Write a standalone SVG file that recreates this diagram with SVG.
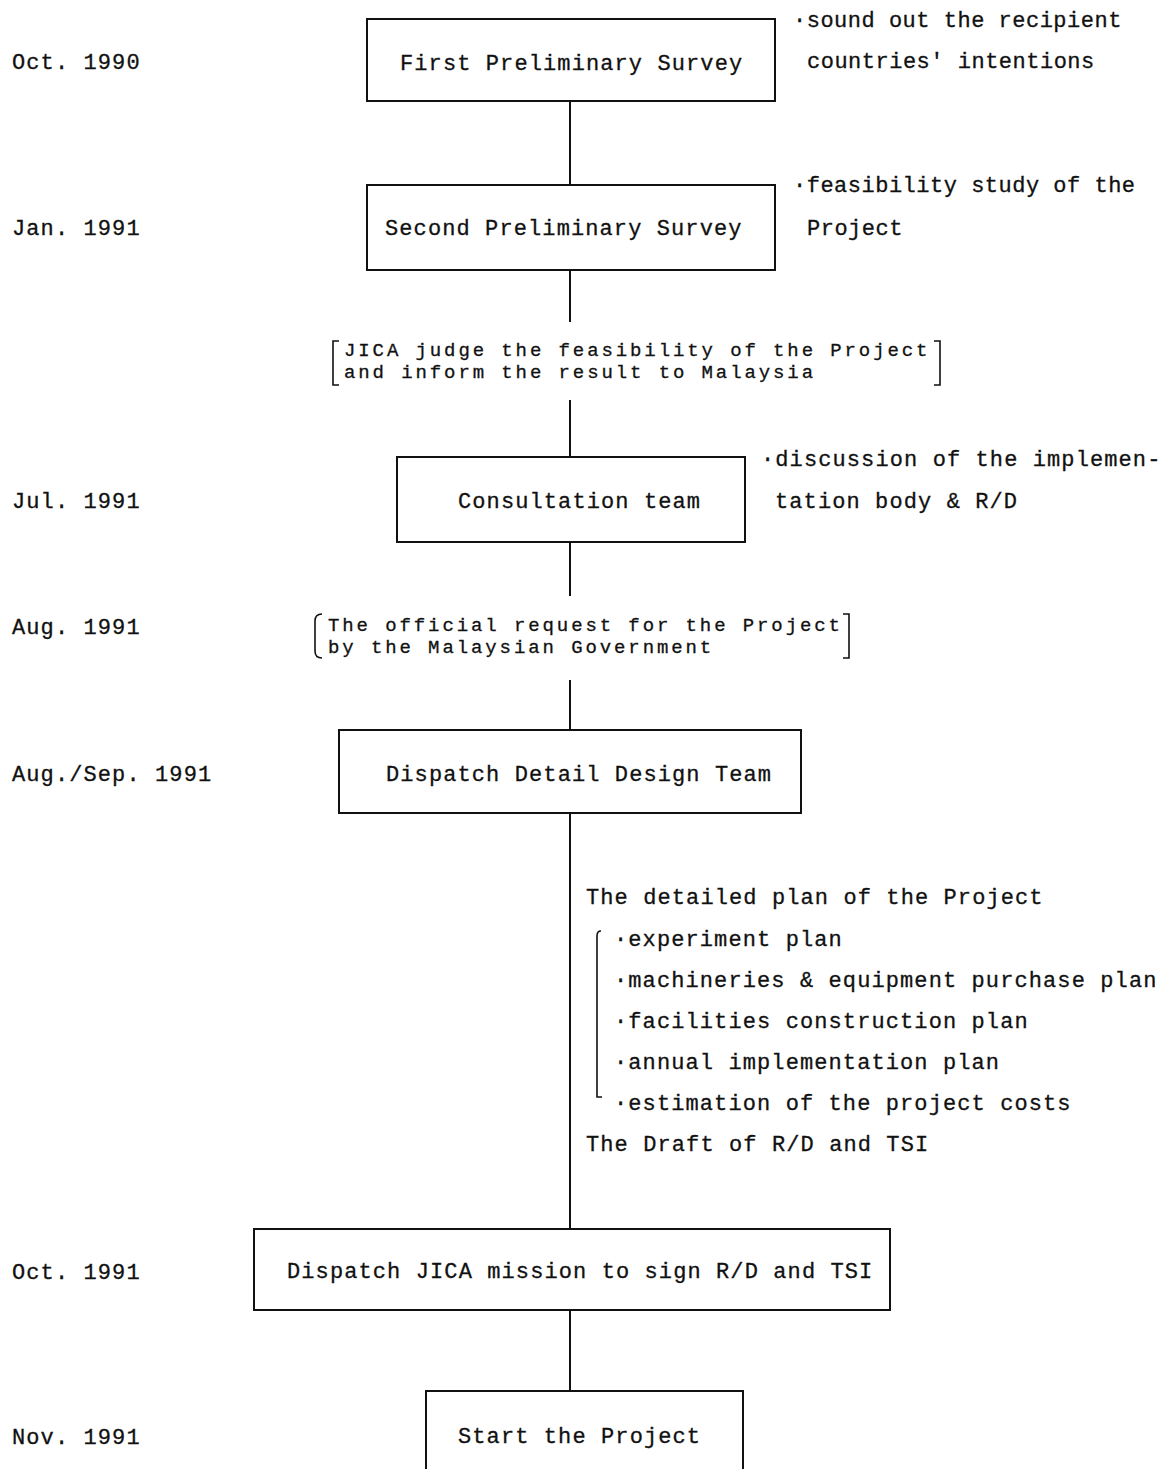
<svg xmlns="http://www.w3.org/2000/svg" width="1165" height="1469" viewBox="0 0 1165 1469">
  <style>
    text { font-family: "Liberation Mono", "DejaVu Sans Mono", monospace; font-size: 22px; letter-spacing: 1.1px; fill: #111; stroke: #111; stroke-width: 0.3px; }
    .note { letter-spacing: 0.5px; }
    .tight { font-size: 19px; letter-spacing: 2.9px; }
    .box { fill: none; stroke: #111; stroke-width: 2; }
    .line { fill: none; stroke: #111; stroke-width: 2; }
    .brk { fill: none; stroke: #111; stroke-width: 1.6; }
  </style>
  <rect width="1165" height="1469" fill="#fff"/>

  <!-- timeline dates -->
  <g id="dates">
    <text x="12" y="69">Oct. 1990</text>
    <text x="12" y="235">Jan. 1991</text>
    <text x="12" y="508">Jul. 1991</text>
    <text x="12" y="634">Aug. 1991</text>
    <text x="12" y="781">Aug./Sep. 1991</text>
    <text x="12" y="1279">Oct. 1991</text>
    <text x="12" y="1444">Nov. 1991</text>
  </g>

  <!-- connectors -->
  <g id="connectors">
    <line class="line" x1="570" y1="101" x2="570" y2="185"/>
    <line class="line" x1="570" y1="270" x2="570" y2="322"/>
    <line class="line" x1="570" y1="400" x2="570" y2="457"/>
    <line class="line" x1="570" y1="542" x2="570" y2="596"/>
    <line class="line" x1="570" y1="680" x2="570" y2="730"/>
    <line class="line" x1="570" y1="813" x2="570" y2="1229"/>
    <line class="line" x1="570" y1="1310" x2="570" y2="1391"/>
  </g>

  <g id="first-survey">
    <rect class="box" x="367" y="19" width="408" height="82"/>
    <text x="400" y="70">First Preliminary Survey</text>
  </g>
  <g id="first-survey-note">
    <text class="note" x="793" y="27">·sound out the recipient</text>
    <text class="note" x="807" y="68">countries' intentions</text>
  </g>

  <g id="second-survey">
    <rect class="box" x="367" y="185" width="408" height="85"/>
    <text x="385" y="235">Second Preliminary Survey</text>
  </g>
  <g id="second-survey-note">
    <text class="note" x="793" y="192">·feasibility study of the</text>
    <text class="note" x="807" y="235">Project</text>
  </g>

  <g id="jica-judge">
    <path class="brk" d="M339 341 H333 V385 H339"/>
    <path class="brk" d="M934 341 H940 V385 H934"/>
    <text class="tight" x="344" y="356">JICA judge the feasibility of the Project</text>
    <text class="tight" x="344" y="378">and inform the result to Malaysia</text>
  </g>

  <g id="consultation">
    <rect class="box" x="397" y="457" width="348" height="85"/>
    <text x="458" y="508">Consultation team</text>
  </g>
  <g id="consultation-note">
    <text x="761" y="466">·discussion of the implemen-</text>
    <text x="775" y="508">tation body &amp; R/D</text>
  </g>

  <g id="official-request">
    <path class="brk" d="M322 614 Q315 614 315 621 V651 Q315 658 322 658"/>
    <path class="brk" d="M843 614 H849 V658 H843"/>
    <text class="tight" x="328" y="631">The official request for the Project</text>
    <text class="tight" x="328" y="653">by the Malaysian Government</text>
  </g>

  <g id="design-team">
    <rect class="box" x="339" y="730" width="462" height="83"/>
    <text x="386" y="781">Dispatch Detail Design Team</text>
  </g>

  <g id="detailed-plan">
    <text x="586" y="904">The detailed plan of the Project</text>
    <path class="brk" d="M601 931 Q597 931 597 936 V1097 H602"/>
    <text x="614" y="946">·experiment plan</text>
    <text x="614" y="987">·machineries &amp; equipment purchase plan</text>
    <text x="614" y="1028">·facilities construction plan</text>
    <text x="614" y="1069">·annual implementation plan</text>
    <text x="614" y="1110">·estimation of the project costs</text>
    <text x="586" y="1151">The Draft of R/D and TSI</text>
  </g>

  <g id="mission">
    <rect class="box" x="254" y="1229" width="636" height="81"/>
    <text x="287" y="1278">Dispatch JICA mission to sign R/D and TSI</text>
  </g>

  <g id="start">
    <path class="box" d="M426 1475 V1391 H743 V1475"/>
    <text x="458" y="1443">Start the Project</text>
  </g>
</svg>
